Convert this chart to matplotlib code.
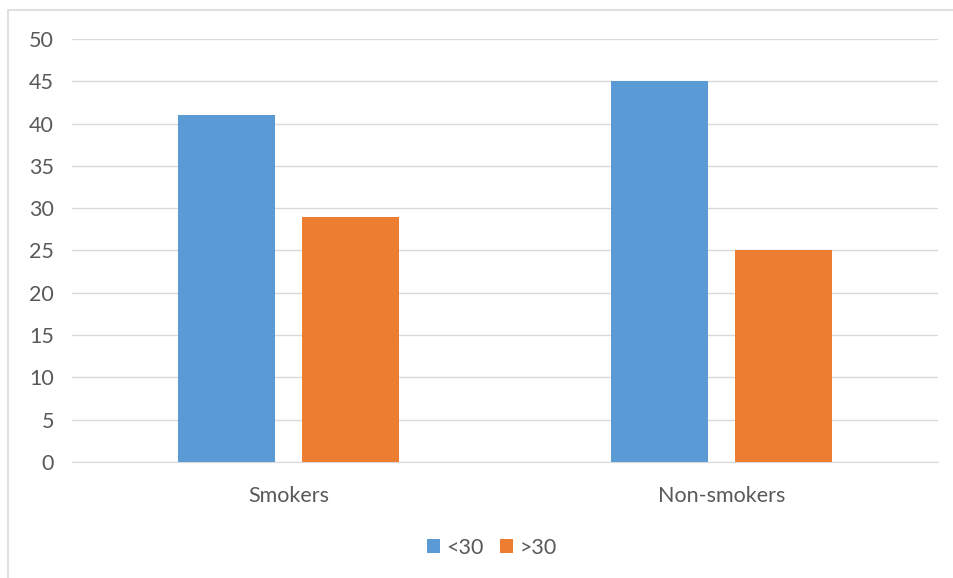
import matplotlib.pyplot as plt
import matplotlib.patches as patches
import numpy as np

categories = ["Smokers", "Non-smokers"]
under_30 = [41, 45]
over_30 = [29, 25]
series_names = ["<30", ">30"]
yticks = [0, 5, 10, 15, 20, 25, 30, 35, 40, 45, 50]

blue = "#5b9bd5"
orange = "#ed7d31"
grey = "#595959"

plt.rcParams["font.family"] = ["Lato", "DejaVu Sans"]

fig = plt.figure(figsize=(9.54, 5.78), dpi=100)
ax = fig.add_axes([72 / 954, 1 - 462 / 578, 866 / 954, 423 / 578])

# chart area border (right / bottom edges fall outside the image)
fig.patches.append(patches.Rectangle((8 / 954, -0.1), 1.2, 1 - 10 / 578 + 0.1,
                                     transform=fig.transFigure, fill=False,
                                     edgecolor="#d9d9d9", linewidth=1.2))

x = np.arange(len(categories))
w = 0.224
off = 0.1426
ax.bar(x - off, under_30, w, color=blue, label=series_names[0], zorder=3)
ax.bar(x + off, over_30, w, color=orange, label=series_names[1], zorder=3)

ax.set_xlim(-0.5, 1.5)
ax.set_ylim(0, 50)
ax.set_yticks(yticks)
ax.set_xticks(x)
ax.set_xticklabels(categories)
ax.grid(axis="y", color="#d9d9d9", linewidth=1, zorder=0)
for s in ["top", "right", "left"]:
    ax.spines[s].set_visible(False)
ax.spines["bottom"].set_color("#d9d9d9")
ax.tick_params(axis="both", length=0, labelsize=15.5, colors=grey)
ax.tick_params(axis="y", pad=13)
ax.tick_params(axis="x", pad=17)

fig.legend(loc="center", bbox_to_anchor=(492 / 954, 1 - 548 / 578), ncol=2, frameon=False,
           fontsize=15.5, labelcolor=grey, handlelength=0.62, handleheight=0.62,
           handletextpad=0.3, columnspacing=0.75)

fig.savefig("out.png", dpi=100)
